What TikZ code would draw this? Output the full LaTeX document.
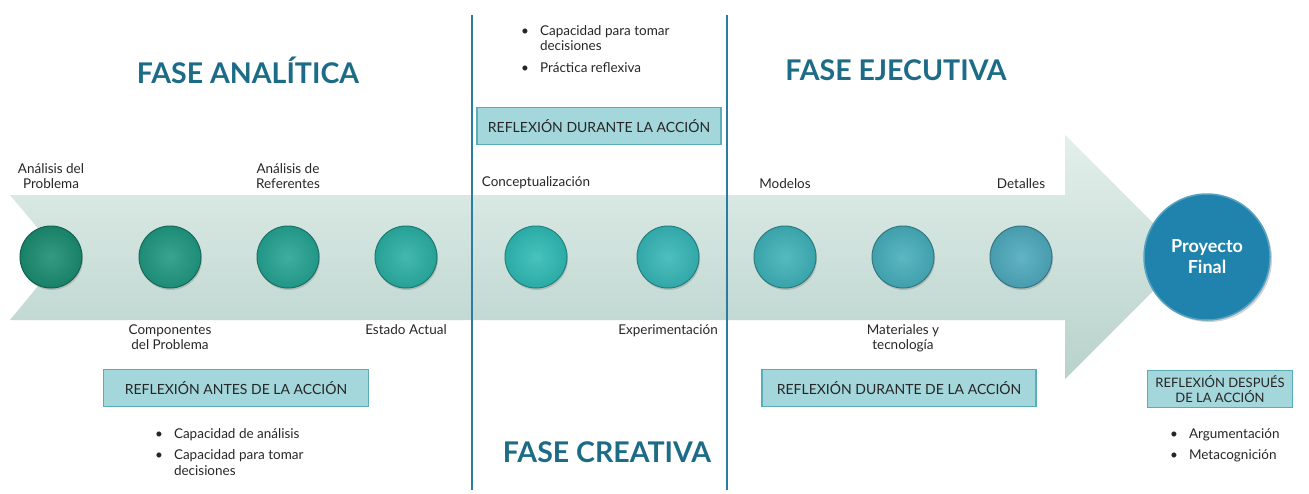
\documentclass[tikz,border=0pt]{standalone}
\usepackage{fontspec}
\setmainfont{Lato}
\usetikzlibrary{positioning,shadows}
\definecolor{teala}{HTML}{1A8C70}
\definecolor{tealm}{HTML}{2FBAB4}
\definecolor{tealb}{HTML}{4DA9BC}
\definecolor{phaseblue}{HTML}{1C6B87}
\definecolor{linblue}{HTML}{2B7CA3}
\definecolor{boxfill}{HTML}{A4D7DC}
\definecolor{boxline}{HTML}{58ADB8}
\definecolor{bandtop}{HTML}{E3EFEB}
\definecolor{bandbot}{HTML}{B8D2CB}
\definecolor{finalblue}{HTML}{2083AD}
\tikzset{
  node distance = 33pt,
  stage/.style  = {circle, minimum size=62pt, inner sep=0pt, draw=#1!70!black, line width=1pt,
                   inner color=#1!88!white, outer color=#1!92!black,
                   drop shadow={opacity=.35, shadow xshift=1pt, shadow yshift=-2pt}},
  final/.style  = {circle, minimum size=126pt, fill=finalblue, draw=finalblue!75!white, line width=1.5pt,
                   text=white, font=\fontsize{18}{21}\selectfont\bfseries, align=center,
                   drop shadow={opacity=.35, shadow xshift=2pt, shadow yshift=-2pt}},
  lbl/.style    = {align=center, font=\fontsize{13.5}{15}\selectfont, text=black!85},
  reflect/.style= {draw=boxline, line width=1.5pt, fill=boxfill, minimum height=37pt, align=center,
                   font=\fontsize{14}{15}\selectfont, text=black!85},
  phase/.style  = {font=\fontsize{28.5}{32}\selectfont\bfseries, text=phaseblue},
  divider/.style= {draw=linblue, line width=2.5pt},
  bullets/.style= {anchor=north west, inner sep=0pt, font=\fontsize{13.5}{15.5}\selectfont, text=black!85}
}

\begin{document}
\begin{tikzpicture}[x=1pt, y=-1pt]
  \useasboundingbox (0,0) rectangle (1309,493);
  % arrow band
  \shade[top color=bandtop, bottom color=bandbot]
    (10,195) -- (1065,195) -- (1065,135) -- (1187,257) -- (1065,379) -- (1065,320) -- (10,320) -- (62,257) -- cycle;

  % phase dividers
  \coordinate (d1t) at (472,15);  \coordinate (d1b) at (472,490);
  \coordinate (d2t) at (727,15);  \coordinate (d2b) at (727,490);
  \draw[divider] (d1t) -- (d1b);
  \draw[divider] (d2t) -- (d2b);

  % stages
  \foreach \i/\x in {1/51, 2/170, 3/288, 4/406, 5/536} {
    \pgfmathtruncatemacro{\p}{100-(\i-1)*25}
    \colorlet{stagecol}{teala!\p!tealm}
    \node[stage=stagecol] (s\i) at (\x,257) {};
  }
  \foreach \i/\x in {6/668, 7/785, 8/903, 9/1021} {
    \pgfmathtruncatemacro{\p}{100-(\i-5)*25}
    \colorlet{stagecol}{tealm!\p!tealb}
    \node[stage=stagecol] (s\i) at (\x,257) {};
  }
  \node[final] (fin) at (1207,257) {Proyecto\\Final};

  \node[lbl, above=of s1] {Análisis del\\Problema};
  \node[lbl, below=of s2] {Componentes\\del Problema};
  \node[lbl, above=of s3] {Análisis de\\Referentes};
  \node[lbl, below=of s4] {Estado Actual};
  \node[lbl, above=of s5] {Conceptualización};
  \node[lbl, below=of s6] {Experimentación};
  \node[lbl, above=of s7] {Modelos};
  \node[lbl, below=of s8] {Materiales y\\tecnología};
  \node[lbl, above=of s9] {Detalles};

  % phases
  \node[phase] (fa) at (248,70) {FASE ANALÍTICA};
  \node[phase] (fe) at (896,70) {FASE EJECUTIVA};
  \node[phase] (fc) at (607,452) {FASE CREATIVA};

  % reflection boxes
  \node[reflect, minimum width=244pt] (rd) at (599,126) {REFLEXIÓN DURANTE LA ACCIÓN};
  \node[reflect, minimum width=265pt] (ra) at (236,388) {REFLEXIÓN ANTES DE LA ACCIÓN};
  \node[reflect, minimum width=274pt] (re) at (899,388) {REFLEXIÓN DURANTE DE LA ACCIÓN};
  \node[reflect, minimum width=145pt, inner xsep=2pt, font=\fontsize{13}{14.5}\selectfont] (rp) at (1220,389) {REFLEXIÓN DESPUÉS\\DE LA ACCIÓN};

  % bullet lists
  \node[bullets] (bd) at (521,24) {\begin{tabular}{@{}l@{\hspace{11pt}}l@{}}
    \textbullet & Capacidad para tomar\\ & decisiones\\[6pt]
    \textbullet & Práctica reflexiva\end{tabular}};
  \node[bullets] (ba) at (155,427) {\begin{tabular}{@{}l@{\hspace{11pt}}l@{}}
    \textbullet & Capacidad de análisis\\[6pt]
    \textbullet & Capacidad para tomar\\ & decisiones\end{tabular}};
  \node[bullets] (bp) at (1170,427) {\begin{tabular}{@{}l@{\hspace{11pt}}l@{}}
    \textbullet & Argumentación\\[6pt]
    \textbullet & Metacognición\end{tabular}};
\end{tikzpicture}
\end{document}
